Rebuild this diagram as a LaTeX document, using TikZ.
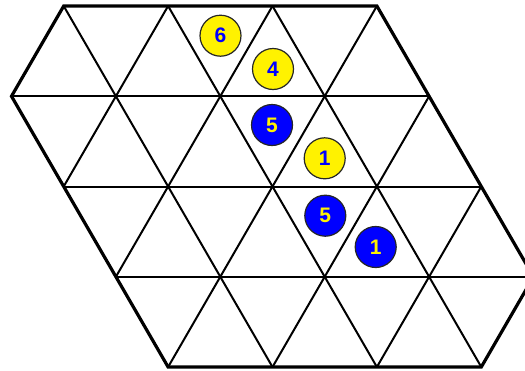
\documentclass[tikz,border=0pt]{standalone}
\usepackage{fontspec}
\setmainfont{Liberation Sans}
\begin{document}
\begin{tikzpicture}[x=1pt,y=-1pt,
  grid/.style={line width=2pt, line cap=round},
  rim/.style={line width=3.2pt, line join=miter},
  ball/.style={circle, draw=black!85, line width=1.2pt, minimum size=41pt, inner sep=0pt, font=\fontsize{21}{21}\selectfont\bfseries},
  yball/.style={ball, fill=yellow, text=blue},
  bball/.style={ball, fill=blue, text=yellow}]
\def\s{104.4}\def\h{90.25}\def\xo{63.7}\def\yo{6}
\useasboundingbox (0,0) rectangle (525,370);
\clip (0,0) rectangle (525,370);
\coordinate (P1) at (\xo,\yo);
\coordinate (P2) at ({\xo+3*\s},\yo);
\coordinate (P3) at ({\xo+4.5*\s},{\yo+3*\h});
\coordinate (P4) at ({\xo+4*\s},{\yo+4*\h});
\coordinate (P5) at ({\xo+\s},{\yo+4*\h});
\coordinate (P6) at ({\xo-0.5*\s},{\yo+\h});
\begin{scope}
\clip (P1)--(P2)--(P3)--(P4)--(P5)--(P6)--cycle;
\foreach \r in {1,2,3} \draw[grid] (0,{\yo+\r*\h}) -- (600,{\yo+\r*\h});
\foreach \a in {-4,...,8} {
  \draw[grid] ({\xo+\a*\s-0.5*\s},{\yo-\h}) -- ({\xo+\a*\s+2.5*\s},{\yo+5*\h});
  \draw[grid] ({\xo+\a*\s+0.5*\s},{\yo-\h}) -- ({\xo+\a*\s-2.5*\s},{\yo+5*\h});
}
\end{scope}
\draw[rim] (P1)--(P2)--(P3)--(P4)--(P5)--(P6)--cycle;
\node[yball] (c6) at (220.5,35.7) {6};
\node[yball] (c4) at (273,69) {4};
\node[bball] (c5a) at (272,125) {5};
\node[yball] (c1a) at (324.7,158.3) {1};
\node[bball] (c5b) at (325.3,215.7) {5};
\node[bball] (c1b) at (375.7,247) {1};
\end{tikzpicture}
\end{document}
